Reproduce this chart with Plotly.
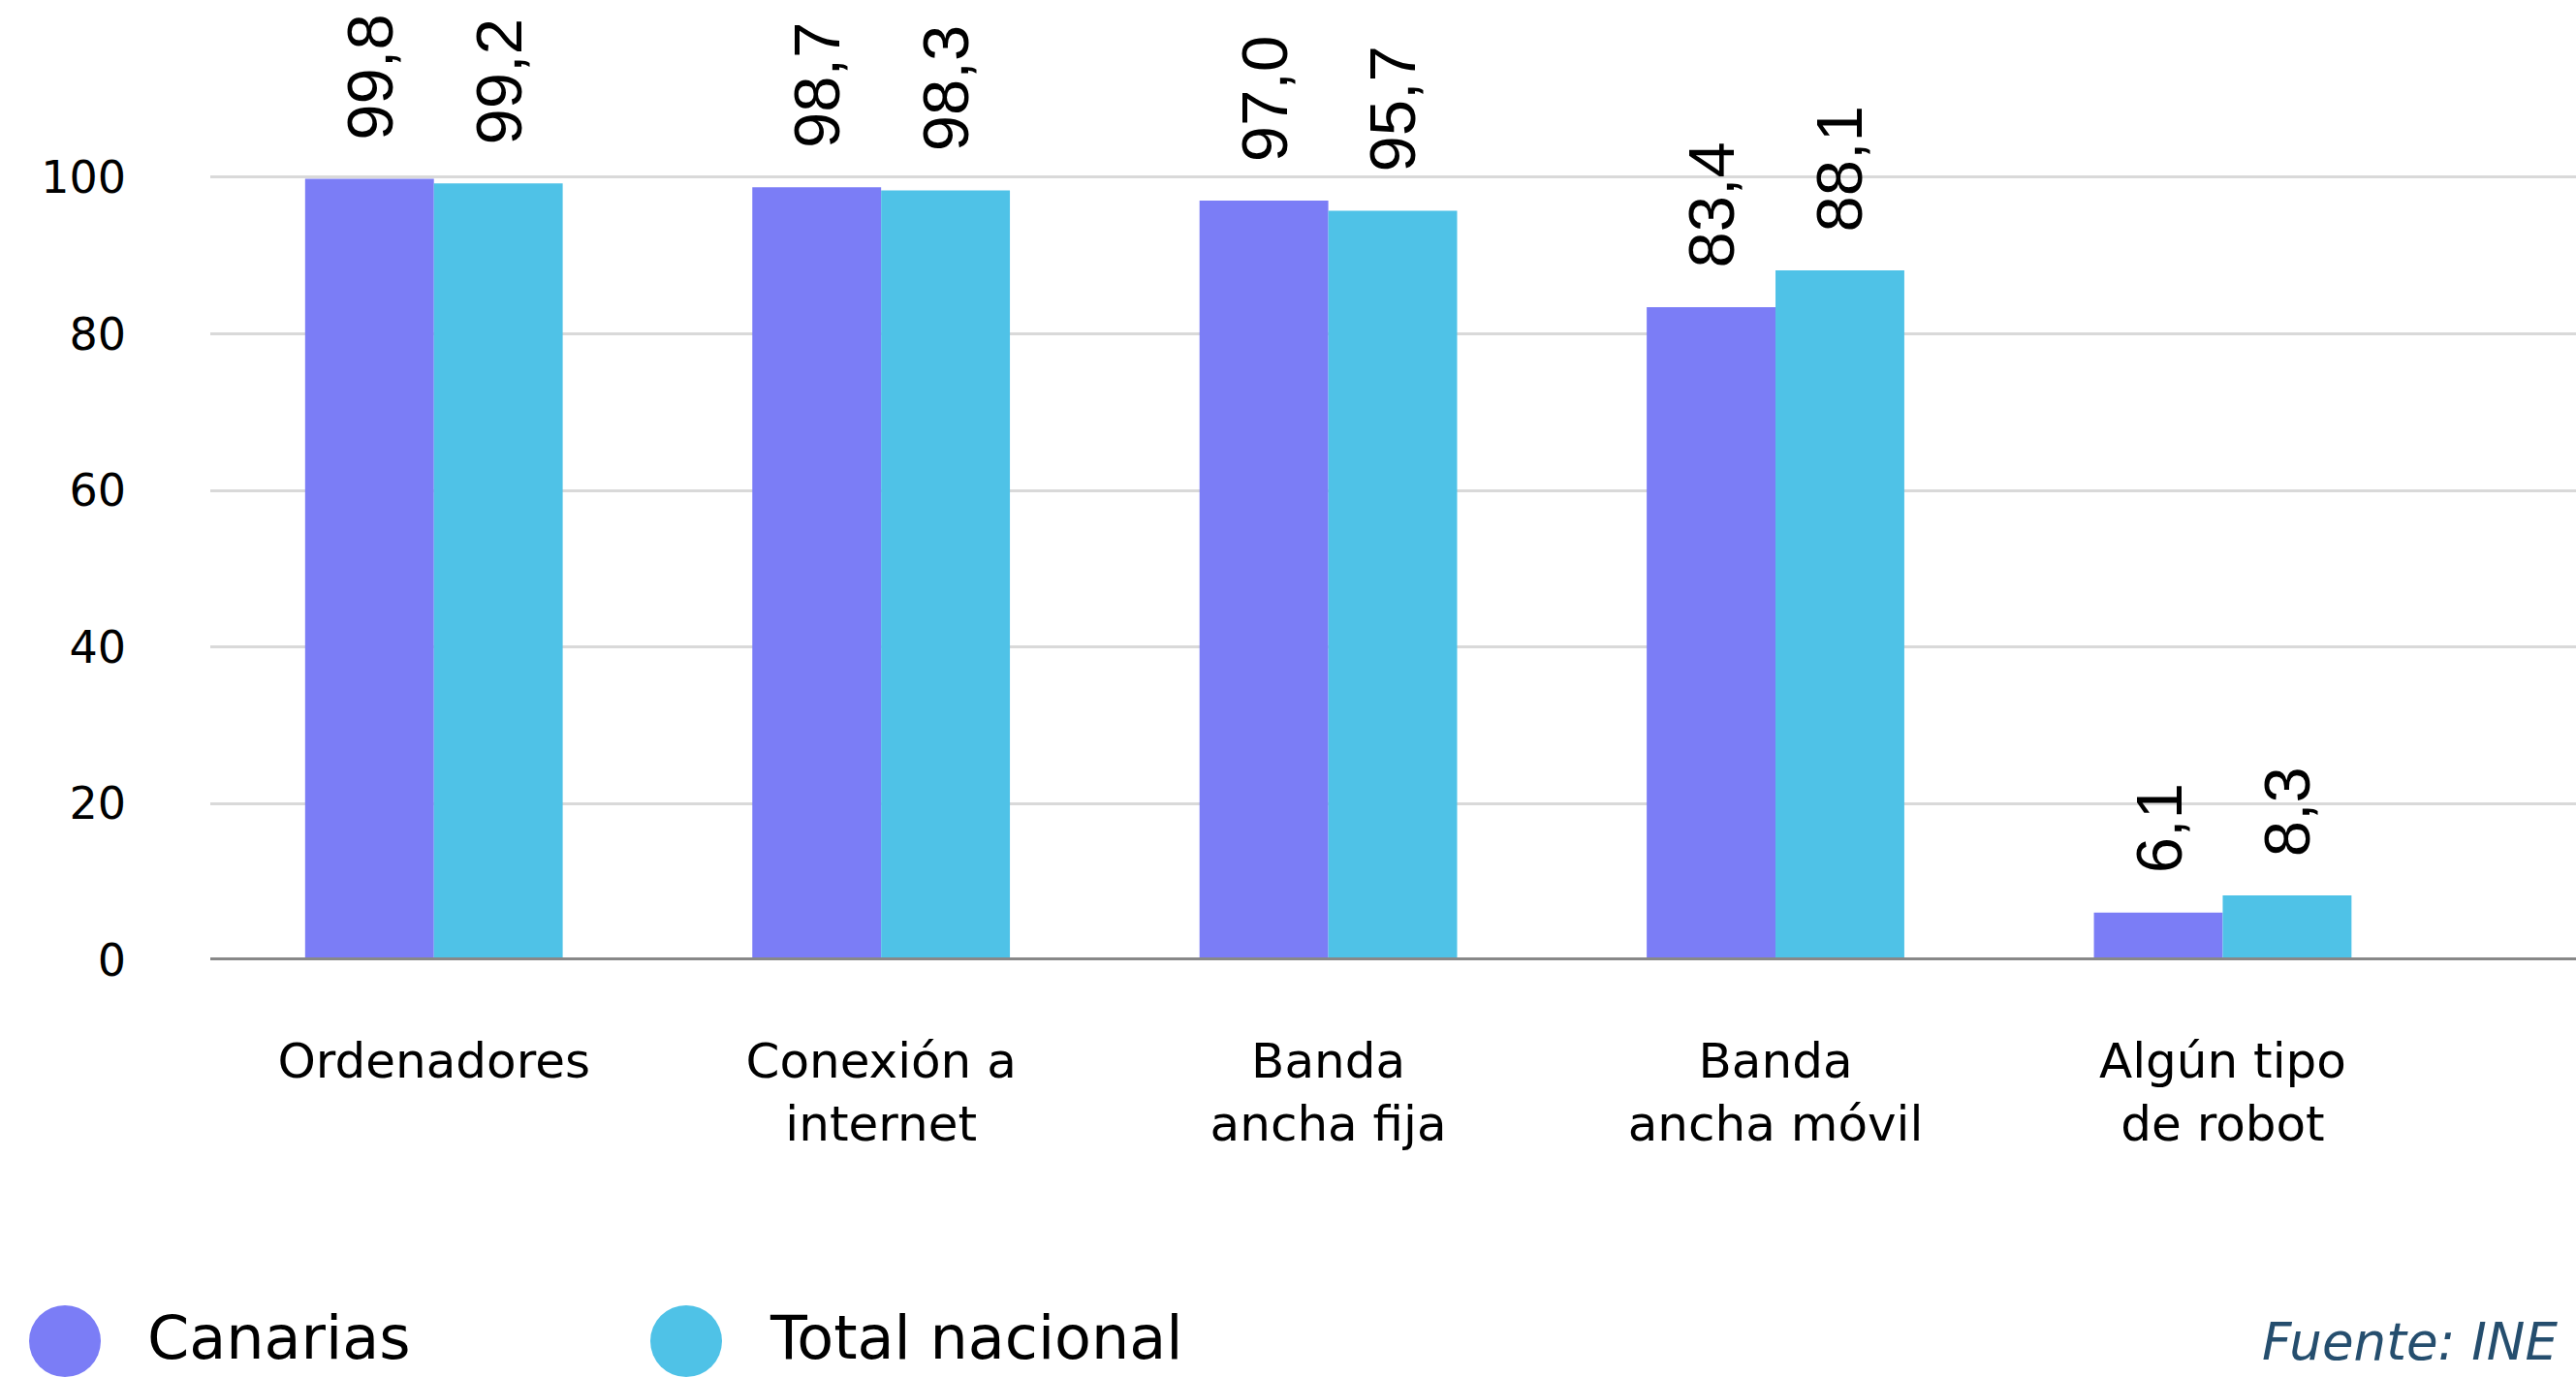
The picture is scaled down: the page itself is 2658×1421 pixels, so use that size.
import plotly.graph_objects as go

categories = ["Ordenadores", "Conexión a<br>internet", "Banda<br>ancha fija",
              "Banda<br>ancha móvil", "Algún tipo<br>de robot"]
canarias = [99.8, 98.7, 97.0, 83.4, 6.1]
total_nacional = [99.2, 98.3, 95.7, 88.1, 8.3]
series_names = ["Canarias", "Total nacional"]
series_colors = ["#7B7DF6", "#4FC2E7"]
y_ticks = [0, 20, 40, 60, 80, 100]
source_text = "Fuente: INE"

W, H = 2658, 1421
ML, MR, MT, MB = 217, 0, 102, 430
PW, PH = W - ML - MR, H - MT - MB
XR = [-0.5, 4.79]
BARGAP = 0.424


def px2paper_x(px):
    return (px - ML) / PW


def px2paper_y(py):
    return (H - MB - py) / PH


fig = go.Figure()
for name, vals, col in zip(series_names, [canarias, total_nacional], series_colors):
    fig.add_trace(go.Bar(x=categories, y=vals, name=name, marker_color=col,
                         marker_line_width=0, showlegend=False))

# value labels, rotated, above each bar
unit_px = PW / (XR[1] - XR[0])
half_bar = unit_px * (1 - BARGAP) / 4
for si, vals in enumerate([canarias, total_nacional]):
    shift = -half_bar if si == 0 else half_bar
    for c, v in zip(categories, vals):
        fig.add_annotation(x=c, y=v, xref="x", yref="y",
                           text=f"{v:.1f}".replace(".", ","),
                           textangle=-90, showarrow=False,
                           xanchor="center", yanchor="bottom",
                           xshift=shift, yshift=38,
                           font=dict(family="Liberation Sans, Arial", size=67, color="#000000"))

# custom legend (circles + labels)
legend_items = [(67, 150), (708, 792)]
for (cx, tx), name, col in zip(legend_items, series_names, series_colors):
    fig.add_shape(type="circle", xref="paper", yref="paper",
                  xsizemode="pixel", ysizemode="pixel",
                  xanchor=px2paper_x(cx), yanchor=px2paper_y(1384),
                  x0=-37, x1=37, y0=-37, y1=37,
                  fillcolor=col, line_width=0)
    fig.add_annotation(x=px2paper_x(tx), y=px2paper_y(1380), xref="paper", yref="paper",
                       text=name, showarrow=False, xanchor="left", yanchor="middle",
                       font=dict(family="DejaVu Sans", size=62, color="#000000"))

fig.add_annotation(x=px2paper_x(2332), y=px2paper_y(1384), xref="paper", yref="paper",
                   text=source_text, showarrow=False, xanchor="left", yanchor="middle",
                   font=dict(family="DejaVu Sans", size=53, color="#254E6E", style="italic"))

# zero baseline above bars
fig.add_shape(type="line", xref="paper", yref="y", x0=0, x1=1, y0=0, y1=0,
              line=dict(color="#888888", width=6), layer="above")

fig.update_layout(
    width=W, height=H, autosize=False,
    margin=dict(l=ML, r=MR, t=MT, b=MB, pad=0),
    paper_bgcolor="white", plot_bgcolor="white",
    barmode="group", bargap=BARGAP, bargroupgap=0,
    showlegend=False,
    xaxis=dict(type="category", range=XR, showgrid=False, zeroline=False,
               showline=False, ticks="", ticklabelstandoff=70,
               tickfont=dict(family="DejaVu Sans", size=50, color="#000000")),
    yaxis=dict(range=[0, 110], tickvals=y_ticks, ticktext=[str(t) for t in y_ticks],
               showgrid=True, gridcolor="#D9D9D9", gridwidth=3,
               zeroline=False, showline=False, ticks="", ticklabelstandoff=86,
               tickfont=dict(family="DejaVu Sans", size=46, color="#000000")),
)

fig.write_html("out.html", config={"displayModeBar": False},
               post_script="document.body.style.margin='0';document.body.style.overflow='hidden';")
